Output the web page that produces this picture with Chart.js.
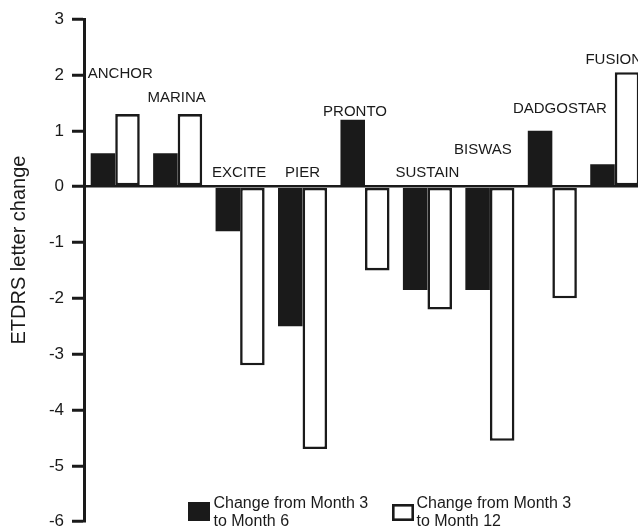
<!DOCTYPE html>
<html>
<head>
<meta charset="utf-8">
<script src="https://cdn.jsdelivr.net/npm/chart.js@4.4.1/dist/chart.umd.min.js"></script>
<style>
html, body { margin: 0; padding: 0; overflow: hidden; background: #fff; width: 638px; height: 532px; }
#wrap { width: 646px; height: 532px; }
canvas { display: block; }
</style>
</head>
<body>
<div id="wrap"><canvas id="c" width="646" height="532"></canvas></div>
<script>
// ---- data ----
const categories = ['ANCHOR', 'MARINA', 'EXCITE', 'PIER', 'PRONTO', 'SUSTAIN', 'BISWAS', 'DADGOSTAR', 'FUSION'];
const changeMonth3To6 = [0.6, 0.6, -0.8, -2.5, 1.2, -1.85, -1.85, 1.0, 0.4];
const changeMonth3To12 = [1.3, 1.3, -3.2, -4.7, -1.5, -2.2, -4.55, -2.0, 2.05];
const seriesNames = [['Change from Month 3', 'to Month 6'], ['Change from Month 3', 'to Month 12']];
const yTicks = [-6, -5, -4, -3, -2, -1, 0, 1, 2, 3];
const yTitle = 'ETDRS letter change';

// ---- layout / style (not data) ----
const INK = '#1a1a1a';
const FONT = '"Liberation Sans", Arial, Helvetica, sans-serif';
const labelAnchorY = [2.02, 1.60, 0.24, 0.24, 1.34, 0.25, 0.66, 1.39, 2.28]; // label centre, in axis units
const labelDx = [5, -1, -1, 0, -10, 0, -7, 7.5, -1];

const decor = {
  id: 'decor',
  afterDatasetsDraw(chart) {
    const ctx = chart.ctx;
    const xs = chart.scales.x, ys = chart.scales.y;
    ctx.save();
    ctx.fillStyle = INK;
    // category labels above bars
    ctx.font = '15px ' + FONT;
    ctx.textAlign = 'center';
    ctx.textBaseline = 'middle';
    categories.forEach((c, i) => {
      ctx.fillText(c, xs.getPixelForValue(i) + labelDx[i], ys.getPixelForValue(labelAnchorY[i]));
    });
    // y-axis title
    ctx.save();
    ctx.translate(19.5, 250);
    ctx.rotate(-Math.PI / 2);
    ctx.font = '20px ' + FONT;
    ctx.fillText(yTitle, 0, 0);
    ctx.restore();
    // legend
    const ds = chart.data.datasets;
    ctx.font = '16px ' + FONT;
    ctx.textAlign = 'left';
    ctx.fillStyle = ds[0].backgroundColor;
    ctx.fillRect(188, 502, 22, 19);
    ctx.fillStyle = ds[1].backgroundColor;
    ctx.fillRect(393, 505, 20, 15);
    ctx.strokeStyle = ds[1].borderColor;
    ctx.lineWidth = 2.6;
    ctx.strokeRect(393.3, 505.3, 19.4, 14.4);
    ctx.fillStyle = INK;
    seriesNames[0].forEach((t, k) => ctx.fillText(t, 213.5, 504 + k * 18));
    seriesNames[1].forEach((t, k) => ctx.fillText(t, 416.5, 504 + k * 18));
    ctx.restore();
  }
};

new Chart(document.getElementById('c'), {
  type: 'bar',
  data: {
    labels: categories,
    datasets: [
      {
        label: seriesNames[0].join(' '),
        data: changeMonth3To6,
        backgroundColor: INK,
        borderColor: INK,
        borderWidth: 0,
        borderSkipped: false
      },
      {
        label: seriesNames[1].join(' '),
        data: changeMonth3To12,
        backgroundColor: '#ffffff',
        borderColor: INK,
        borderWidth: 2.6,
        borderSkipped: false
      }
    ]
  },
  options: {
    responsive: false,
    animation: false,
    devicePixelRatio: 1,
    layout: { padding: { top: 19.2, bottom: 10.3, left: 0, right: 0 } },
    datasets: { bar: { categoryPercentage: 0.786, barPercentage: 1.0 } },
    plugins: { legend: { display: false }, tooltip: { enabled: false } },
    scales: {
      x: { display: false, offset: true },
      y: {
        min: -6,
        max: 3,
        afterBuildTicks: s => { s.ticks = yTicks.map(v => ({ value: v })); },
        afterFit: s => { s.width = 84; s.paddingTop = 0; s.paddingBottom = 0; },
        border: { display: true, color: INK, width: 3 },
        grid: {
          color: c => (c.tick && c.tick.value === 0) ? INK : 'rgba(0,0,0,0)',
          lineWidth: 2.5,
          drawTicks: true,
          tickColor: INK,
          tickWidth: 3,
          tickLength: 12
        },
        ticks: { color: INK, font: { family: FONT, size: 17 }, padding: 8 },
        title: { display: false }
      }
    }
  },
  plugins: [decor]
});
</script>
</body>
</html>
